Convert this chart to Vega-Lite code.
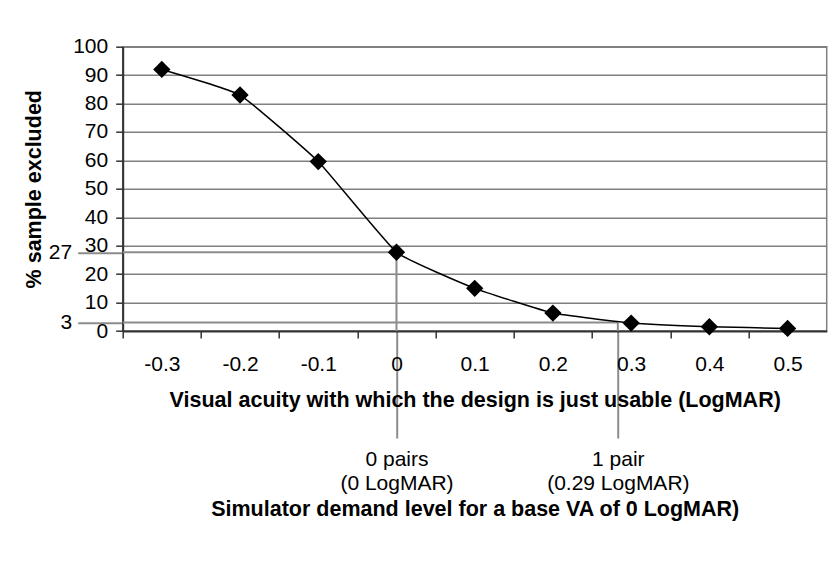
{
  "$schema": "https://vega.github.io/schema/vega-lite/v6.json",
  "width": 704,
  "height": 284.3,
  "autosize": "none",
  "padding": {"left": 122.7, "top": 46.7, "right": 1.3, "bottom": 231},
  "background": "white",
  "config": {
    "font": "Liberation Sans",
    "view": {"stroke": "#808080", "strokeWidth": 1.5},
    "axis": {"labelFont": "Liberation Sans", "titleFont": "Liberation Sans", "labelColor": "black", "titleColor": "black"}
  },
  "datasets": {
    "series": [
      {"va": -0.3, "pct": 92},
      {"va": -0.2, "pct": 83},
      {"va": -0.1, "pct": 59.6},
      {"va": 0, "pct": 27.7},
      {"va": 0.1, "pct": 15},
      {"va": 0.2, "pct": 6.3},
      {"va": 0.3, "pct": 2.8},
      {"va": 0.4, "pct": 1.5},
      {"va": 0.5, "pct": 0.9}
    ],
    "hlines": [
      {"level": 27.7, "x_from": -0.35, "x_to": 0},
      {"level": 3, "x_from": -0.35, "x_to": 0.283}
    ],
    "vlines": [
      {"at": 0, "y_from": 27.7, "y_to": 0},
      {"at": 0.283, "y_from": 3, "y_to": 0}
    ]
  },
  "resolve": {"axis": {"x": "independent", "y": "independent"}},
  "layer": [
    {
      "data": {"name": "hlines"},
      "mark": {"type": "rule", "color": "#8c8c8c", "strokeWidth": 2},
      "encoding": {
        "x": {"field": "x_from", "type": "quantitative", "scale": {"domain": [-0.35, 0.55], "nice": false, "zero": false}, "axis": null},
        "x2": {"field": "x_to"},
        "y": {
          "field": "level", "type": "quantitative",
          "scale": {"domain": [0, 100], "nice": false},
          "axis": {
            "orient": "left", "values": [3, 27.7],
            "labelExpr": "datum.value == 3 ? '3' : '27'",
            "tickSize": 45, "tickColor": "#8c8c8c", "tickWidth": 2,
            "labelPadding": 6, "labelFontSize": 21,
            "domain": false, "grid": false, "title": null
          }
        }
      }
    },
    {
      "data": {"name": "vlines"},
      "mark": {"type": "rule", "color": "#8c8c8c", "strokeWidth": 2},
      "encoding": {
        "x": {
          "field": "at", "type": "quantitative",
          "scale": {"domain": [-0.35, 0.55], "nice": false, "zero": false},
          "axis": {
            "orient": "bottom", "values": [0, 0.283],
            "labelExpr": "datum.value == 0 ? ['0 pairs', '(0 LogMAR)'] : ['1 pair', '(0.29 LogMAR)']",
            "tickSize": 107, "tickColor": "#8c8c8c", "tickWidth": 2,
            "labelPadding": 10, "labelFontSize": 21, "labelLineHeight": 24,
            "labelFlush": false, "labelOverlap": false,
            "domain": false, "grid": false,
            "title": "Simulator demand level for a base VA of 0 LogMAR)",
            "titleFontSize": 21.5, "titleFontWeight": "bold",
            "titleY": 184, "titleBaseline": "alphabetic"
          }
        },
        "y": {"field": "y_from", "type": "quantitative", "scale": {"domain": [0, 100], "nice": false}, "axis": null},
        "y2": {"field": "y_to"}
      }
    },
    {
      "data": {"name": "series"},
      "mark": {
        "type": "line", "color": "black", "strokeWidth": 1.5, "interpolate": "cardinal", "tension": 0.65,
        "point": {"shape": "diamond", "size": 300, "filled": true, "color": "black", "opacity": 1}
      },
      "encoding": {
        "x": {
          "field": "va", "type": "quantitative",
          "scale": {"domain": [-0.35, 0.55], "nice": false, "zero": false},
          "axis": {
            "orient": "bottom",
            "values": [-0.3, -0.2, -0.1, 0, 0.1, 0.2, 0.3, 0.4, 0.5],
            "labelExpr": "'' + datum.value",
            "tickOffset": -39.1, "labelOffset": 39.1,
            "tickSize": 7, "tickColor": "#333333", "tickWidth": 1.5,
            "domainColor": "#333333", "domainWidth": 2,
            "labelPadding": 15, "labelFontSize": 21, "labelFlush": false, "labelOverlap": false,
            "grid": false,
            "title": "Visual acuity with which the design is just usable (LogMAR)",
            "titleFontSize": 21.5, "titleFontWeight": "bold",
            "titleY": 75, "titleBaseline": "alphabetic"
          }
        },
        "y": {
          "field": "pct", "type": "quantitative",
          "scale": {"domain": [0, 100], "nice": false},
          "axis": {
            "orient": "left",
            "values": [0, 10, 20, 30, 40, 50, 60, 70, 80, 90, 100],
            "tickSize": 7, "tickColor": "#333333", "tickWidth": 1.5,
            "domainColor": "#333333", "domainWidth": 2,
            "labelPadding": 8, "labelFontSize": 21,
            "grid": true, "gridColor": "#808080", "gridWidth": 1.5,
            "title": "% sample excluded",
            "titleFontSize": 21.5, "titleFontWeight": "bold",
            "titleX": -82.7, "titleY": 142, "titleAngle": 270,
            "titleAlign": "center", "titleBaseline": "alphabetic"
          }
        }
      }
    }
  ]
}
